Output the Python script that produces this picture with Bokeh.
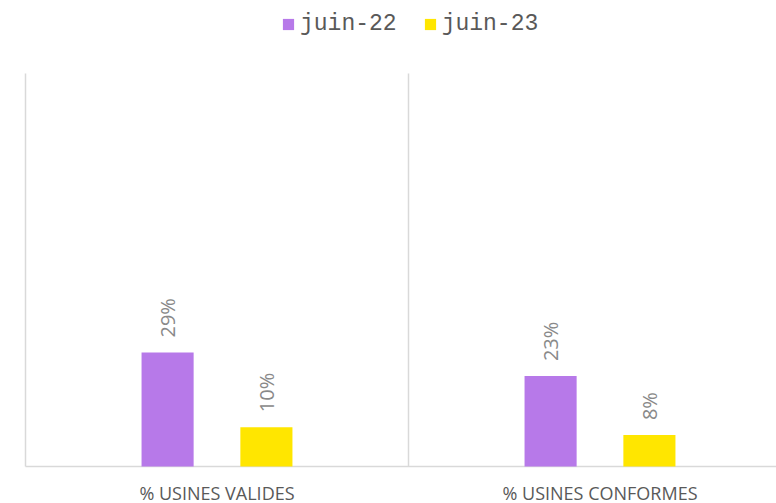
import math
from bokeh.plotting import figure
from bokeh.models import ColumnDataSource, LabelSet, Legend, LegendItem, Range1d
from bokeh.embed import file_html
from bokeh.resources import INLINE
from bokeh.core.properties import value

categories = ["% USINES VALIDES", "% USINES CONFORMES"]
series_names = ["juin-22", "juin-23"]
juin_22 = [0.29, 0.23]
juin_23 = [0.10, 0.08]
labels_22 = ["29%", "23%"]
labels_23 = ["10%", "8%"]
colors = ["#B779E9", "#FFE600"]

# layout (pixels)
W, H = 776, 503
left_px, top_px, bottom_px = 25, 73, 37
group_px = 383
plot_px = H - top_px - bottom_px

n = len(categories)
centers = [i + 0.5 for i in range(n)]
offset = 0.129
bar_w = 0.136

src22 = ColumnDataSource(dict(x=[c - offset for c in centers], top=juin_22, lab=labels_22))
src23 = ColumnDataSource(dict(x=[c + offset for c in centers], top=juin_23, lab=labels_23))
src_cat = ColumnDataSource(dict(x=centers, y=[0] * n, name=categories))

p = figure(width=W, height=H, output_backend="svg", toolbar_location=None,
           x_range=Range1d(-left_px / group_px, (W - left_px) / group_px),
           y_range=Range1d(-bottom_px / plot_px, 1 + top_px / plot_px),
           min_border=0)
p.outline_line_color = None
p.background_fill_color = "white"
p.border_fill_color = "white"
p.xaxis.visible = False
p.yaxis.visible = False
p.xgrid.visible = False
p.ygrid.visible = False

# category separators (left edge + between categories) and baseline
sep = list(range(n))
p.segment(x0=sep, y0=[0] * n, x1=sep, y1=[1] * n,
          line_color="#D9D9D9", line_width=1.5)
p.segment(x0=[0], y0=[0], x1=[n], y1=[0], line_color="#D9D9D9", line_width=1.5)

r1 = p.vbar(x="x", top="top", width=bar_w, bottom=0, source=src22,
            fill_color=colors[0], line_color=None)
r2 = p.vbar(x="x", top="top", width=bar_w, bottom=0, source=src23,
            fill_color=colors[1], line_color=None)

for src in (src22, src23):
    p.add_layout(LabelSet(x="x", y="top", text="lab", source=src, angle=math.pi / 2,
                          text_align="left", text_baseline="middle", y_offset=15,
                          text_font=value("Open Sans"), text_font_size="20px",
                          text_color="#898989"))

# category labels under the baseline
p.add_layout(LabelSet(x="x", y="y", text="name", source=src_cat,
                      text_align="center", text_baseline="alphabetic", y_offset=-33,
                      text_font=value("Open Sans"), text_font_size="18px",
                      text_color="#595959"))

legend = Legend(items=[LegendItem(label=series_names[0], renderers=[r1]),
                       LegendItem(label=series_names[1], renderers=[r2])],
                location=(281, 466), orientation="horizontal",
                glyph_width=14, glyph_height=14, label_standoff=5, spacing=26,
                padding=0, margin=0, border_line_color=None,
                background_fill_alpha=0,
                label_text_font="Liberation Mono", label_text_font_size="23px",
                label_text_color="#595959")
p.add_layout(legend, "center")

open("out.html", "w").write(file_html(p, INLINE))
